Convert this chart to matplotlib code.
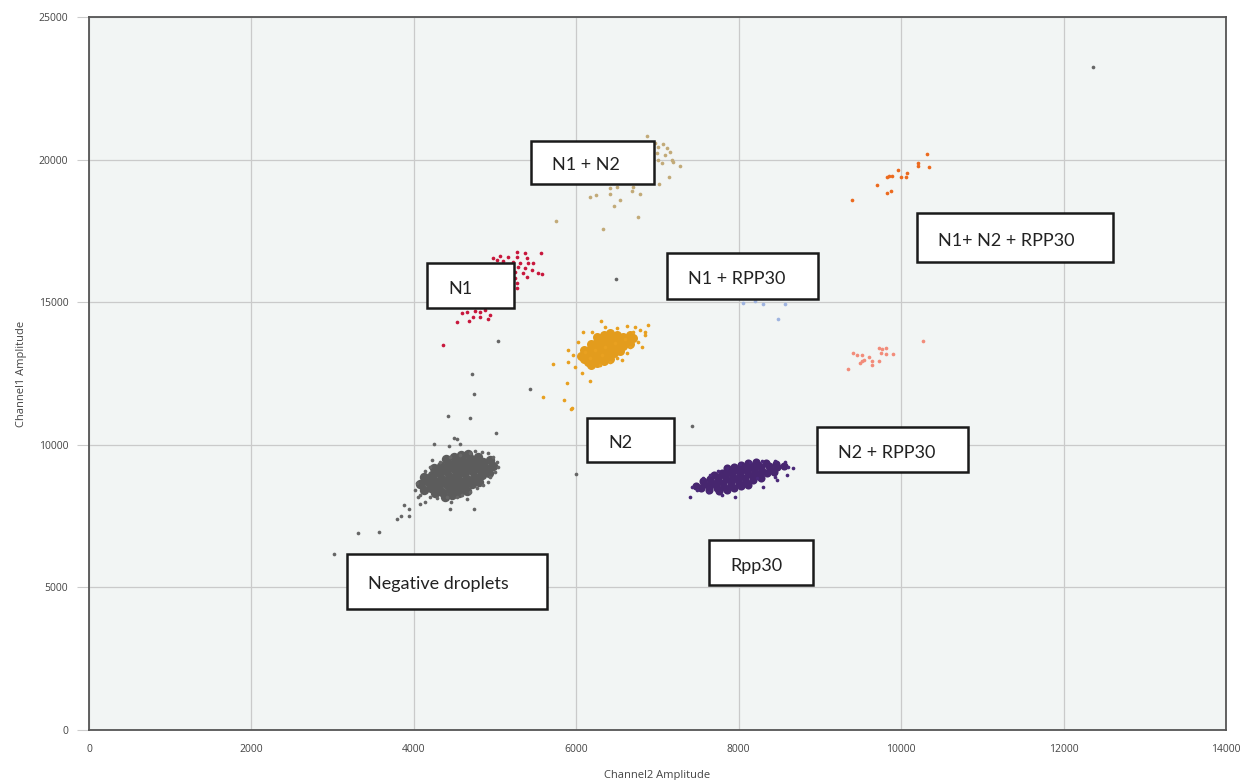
import matplotlib
matplotlib.use("Agg")
import matplotlib.pyplot as plt
from matplotlib.patches import Rectangle

# ---- droplet clusters (Channel2 amplitude, Channel1 amplitude) ----
# dense cluster centres are drawn with bigger markers, the spread with small ones
neg_core_x = [4080, 4170, 4260, 4350, 4440, 4530, 4620, 4710, 4800, 4890, 4980,
              4130, 4220, 4310, 4400, 4490, 4580, 4670, 4760, 4850, 4940,
              4120, 4210, 4300, 4390, 4480, 4570, 4660, 4750, 4840, 4930,
              4250, 4340, 4430, 4520, 4610, 4700, 4790,
              4260, 4350, 4440, 4530, 4620, 4710, 4800,
              4400, 4490, 4580, 4670,
              4380, 4470, 4560, 4650]
neg_core_y = [8616, 8681, 8746, 8810, 8875, 8940, 9005, 9070, 9134, 9199, 9264,
              8877, 8942, 9007, 9071, 9136, 9201, 9266, 9331, 9395, 9460,
              8420, 8485, 8549, 8614, 8679, 8744, 8809, 8873, 8938, 9003,
              9188, 9253, 9318, 9383, 9448, 9512, 9577,
              8296, 8360, 8425, 8490, 8555, 8620, 8684,
              9496, 9561, 9626, 9691,
              8182, 8247, 8312, 8376]
neg_x = [4014, 4042, 4075, 4137, 4198, 4321, 4444, 4568, 4691, 4752, 4834, 4916,
         4978, 5019, 5040, 4998, 4937, 4916, 4855, 4773, 4691, 4588, 4650, 4527,
         4403, 4280, 4198, 4137, 4055, 4424, 4695, 5011, 4498, 4531, 4252, 4433,
         4568, 4223, 3875, 3936, 3838, 3792, 3944, 3308, 3575, 3017, 4449, 4741,
         4453, 4076, 6489, 5032, 4712, 4741, 5430, 5997, 7425, 12362]
neg_y = [8414, 8648, 8239, 9092, 9233, 9408, 9560, 9642, 9700, 9794, 9735, 9700,
         9583, 9408, 9233, 9057, 8882, 8707, 8590, 8473, 8356, 8239, 8099, 8181,
         8181, 8122, 8181, 8005, 8181, 11020, 10928, 10413, 10250, 10215, 10027, 9957,
         10016, 9455, 7900, 7748, 7492, 7387, 7513, 6907, 6953, 6160, 7738, 7748,
         8004, 7913, 15823, 13638, 12481, 11770, 11956, 8975, 10658, 23245]

n1_x = [5265, 5368, 5565, 5060, 5163, 5265, 5389, 5019, 5101, 5224, 5306, 5409,
        5471, 5183, 5286, 5368, 5450, 5532, 5573, 5245, 5347, 5389, 5245, 5265,
        5265, 4978, 5142, 4588, 4650, 4752, 4814, 4876, 4937, 4917, 4732, 4683,
        4814, 4535, 4354]
n1_y = [16770, 16712, 16712, 16618, 16595, 16595, 16536, 16478, 16454, 16419, 16361, 16361,
        16384, 16267, 16221, 16186, 16127, 16010, 15975, 16069, 16010, 15870, 15835, 15660,
        15485, 16536, 16127, 14608, 14666, 14701, 14666, 14725, 14549, 14398, 14491, 14339,
        14491, 14292, 13498]

n2_core_x = [6060, 6140, 6220, 6300, 6380, 6460, 6540, 6620, 6700,
             6100, 6180, 6260, 6340, 6420, 6500, 6580, 6660,
             6100, 6180, 6260, 6340, 6420, 6500, 6580, 6660,
             6180, 6260, 6340, 6420, 6500,
             6140, 6220, 6300, 6380, 6460, 6540,
             6260, 6340, 6420,
             6180, 6260, 6340, 6420]
n2_core_y = [13124, 13200, 13276, 13352, 13428, 13504, 13580, 13656, 13732,
             13312, 13388, 13464, 13540, 13616, 13692, 13768, 13844,
             13012, 13088, 13164, 13240, 13316, 13392, 13468, 13544,
             13538, 13614, 13690, 13766, 13842,
             12900, 12976, 13052, 13128, 13204, 13280,
             13764, 13840, 13916,
             12788, 12864, 12940, 13016]
n2_x = [6300, 6079, 6189, 6354, 6497, 6620, 6723, 6887, 6846, 6764, 6661, 6620,
        6497, 6415, 6292, 6169, 6066, 5984, 5902, 5902, 5964, 6805, 6702, 5709,
        5882, 5594, 5853, 5943, 5935, 6107, 6230, 6354, 6477, 6600, 6169, 6312,
        6790, 6850, 6020, 6560]
n2_y = [14340, 13942, 13966, 14141, 14083, 14165, 14141, 14199, 13849, 13615, 13440, 13206,
        13031, 12914, 12797, 12248, 12528, 12739, 12914, 13323, 13148, 13440, 13966, 12820,
        12154, 11687, 11570, 11278, 11254, 13265, 13323, 13440, 13557, 13697, 13031, 13148,
        14020, 13960, 13620, 12980]

rpp_core_x = [7480, 7570, 7660, 7750, 7840, 7930, 8020, 8110, 8200, 8290, 8380, 8470, 8560,
              7560, 7650, 7740, 7830, 7920, 8010, 8100, 8190, 8280, 8370, 8460,
              7540, 7630, 7720, 7810, 7900, 7990, 8080, 8170, 8260, 8350, 8440,
              7700, 7790, 7880, 7970, 8060, 8150, 8240, 8330,
              7640, 7730, 7820, 7910, 8000, 8090, 8180, 8270,
              7850, 7940, 8030, 8120, 8210,
              7760, 7850, 7940, 8030, 8120]
rpp_core_y = [8564, 8622, 8681, 8739, 8798, 8856, 8915, 8973, 9032, 9090, 9149, 9207, 9266,
              8741, 8799, 8858, 8916, 8975, 9033, 9092, 9150, 9209, 9267, 9326,
              8478, 8536, 8595, 8653, 8712, 8770, 8829, 8887, 8946, 9004, 9063,
              8957, 9015, 9074, 9132, 9191, 9249, 9308, 9366,
              8418, 8476, 8535, 8593, 8652, 8710, 8769, 8827,
              9179, 9238, 9296, 9355, 9413,
              8371, 8429, 8488, 8546, 8605]
rpp_x = [7400, 7421, 7482, 7626, 7790, 7954, 7852, 7749, 8016, 8139, 8283, 8447,
         8570, 8611, 8673, 8590, 8467, 8303, 8447, 7564, 7647, 8221]
rpp_y = [8181, 8508, 8415, 8357, 8240, 8181, 9174, 9092, 9326, 9408, 9431, 9443,
         9408, 9233, 9174, 8940, 8765, 8532, 8882, 8824, 8940, 8824]

n1n2_x = [6867, 6969, 7072, 7010, 7113, 7154, 7092, 6990, 7174, 7195, 7277, 7051,
          7010, 7146, 7022, 6415, 6497, 6702, 6682, 6784, 6415, 6243, 6169, 6538,
          6464, 6760, 6325, 5750, 6867, 6743]
n1n2_y = [20826, 20569, 20546, 20452, 20394, 20277, 20160, 20218, 19985, 19926, 19774, 19868,
          19985, 19400, 19143, 18991, 19050, 19050, 18909, 18792, 18792, 18746, 18699, 18582,
          18372, 17975, 17554, 17834, 19634, 19283]

triple_x = [10318, 10212, 10212, 10339, 9965, 10068, 9998, 10056, 9822, 9851, 9883, 9707,
            9822, 9871, 9395]
triple_y = [20195, 19891, 19774, 19727, 19645, 19517, 19377, 19377, 19400, 19423, 19435, 19108,
            18839, 18886, 18582]

n2rpp_x = [10265, 9403, 9461, 9518, 9608, 9723, 9764, 9809, 9752, 9809, 9896, 9518,
           9493, 9543, 9645, 9645, 9727, 9342]
n2rpp_y = [13626, 13229, 13135, 13135, 13089, 13404, 13358, 13381, 13217, 13194, 13194, 12949,
           12855, 12972, 12937, 12785, 12937, 12668]

n1rpp_x = [8057, 8201, 8303, 8570, 8488]
n1rpp_y = [14982, 15053, 14936, 14936, 14398]

x_ticks = [0, 2000, 4000, 6000, 8000, 10000, 12000, 14000]
y_ticks = [0, 5000, 10000, 15000, 20000, 25000]

# annotation boxes, in picture pixels: text, left, top, right, bottom
labels = [
    ("N1 + N2", 531, 141, 654, 184),
    ("N1+ N2 + RPP30", 917, 213, 1113, 262),
    ("N1 + RPP30", 667, 253, 818, 299),
    ("N1", 427, 263, 514, 308),
    ("N2", 587, 418, 674, 462),
    ("N2 + RPP30", 817, 427, 968, 472),
    ("Rpp30", 709, 540, 813, 585),
    ("Negative droplets", 347, 554, 547, 609),
]

W, H = 1243, 780
fig = plt.figure(figsize=(W / 100, H / 100), dpi=100)
fig.patch.set_facecolor("white")
ax = fig.add_axes([89 / W, 1 - 730 / H, 1137 / W, 713 / H])
ax.set_facecolor("#f2f5f4")

# dense cores
ax.scatter(neg_core_x, neg_core_y, s=46, color="#5c5c5c", linewidths=0, zorder=3)
ax.scatter(n2_core_x, n2_core_y, s=42, color="#e39c1d", linewidths=0, zorder=3)
ax.scatter(rpp_core_x, rpp_core_y, s=34, color="#47266f", linewidths=0, zorder=3)

# individual droplets
pt = 7
ax.scatter(neg_x, neg_y, s=pt, color="#666666", linewidths=0, zorder=3)
ax.scatter(n1_x, n1_y, s=pt, color="#c8173c", linewidths=0, zorder=3)
ax.scatter(n2_x, n2_y, s=pt, color="#e8a020", linewidths=0, zorder=3)
ax.scatter(rpp_x, rpp_y, s=pt, color="#4a2878", linewidths=0, zorder=3)
ax.scatter(n1n2_x, n1n2_y, s=pt, color="#c2aa78", linewidths=0, zorder=3)
ax.scatter(triple_x, triple_y, s=pt, color="#ec6a1e", linewidths=0, zorder=3)
ax.scatter(n2rpp_x, n2rpp_y, s=pt, color="#f28c7a", linewidths=0, zorder=3)
ax.scatter(n1rpp_x, n1rpp_y, s=pt, color="#9fb4e0", linewidths=0, zorder=3)

ax.set_xlim(0, 14000)
ax.set_ylim(0, 25000)
ax.set_xticks(x_ticks)
ax.set_yticks(y_ticks)
ax.grid(color="#cacaca", linewidth=0.9, zorder=1)
ax.set_axisbelow(True)
for s in ax.spines.values():
    s.set_color("#555555")
    s.set_linewidth(1.3)
ax.tick_params(axis="y", length=9, color="#cccccc", labelsize=7.5,
               labelcolor="#444444", pad=6)
ax.tick_params(axis="x", length=0, labelsize=7.5, labelcolor="#444444", pad=10)
for lab in ax.get_xticklabels() + ax.get_yticklabels():
    lab.set_family("Open Sans")

ax.set_xlabel("Channel2 Amplitude", fontsize=8, color="#444444",
              family="Open Sans", labelpad=11)
ax.set_ylabel("Channel1 Amplitude", fontsize=8, color="#444444",
              family="Open Sans", labelpad=8)

for text, l, t, r, b in labels:
    rect = Rectangle((l / W, 1 - b / H), (r - l) / W, (b - t) / H,
                     transform=fig.transFigure, facecolor="white",
                     edgecolor="#1a1a1a", linewidth=1.8, zorder=5)
    fig.add_artist(rect)
    fig.text((l + 21) / W, 1 - ((t + b) / 2 + 3) / H, text, fontsize=13,
             family="Lato", color="#222222", ha="left", va="center", zorder=6)

fig.savefig("out.png", dpi=100)
